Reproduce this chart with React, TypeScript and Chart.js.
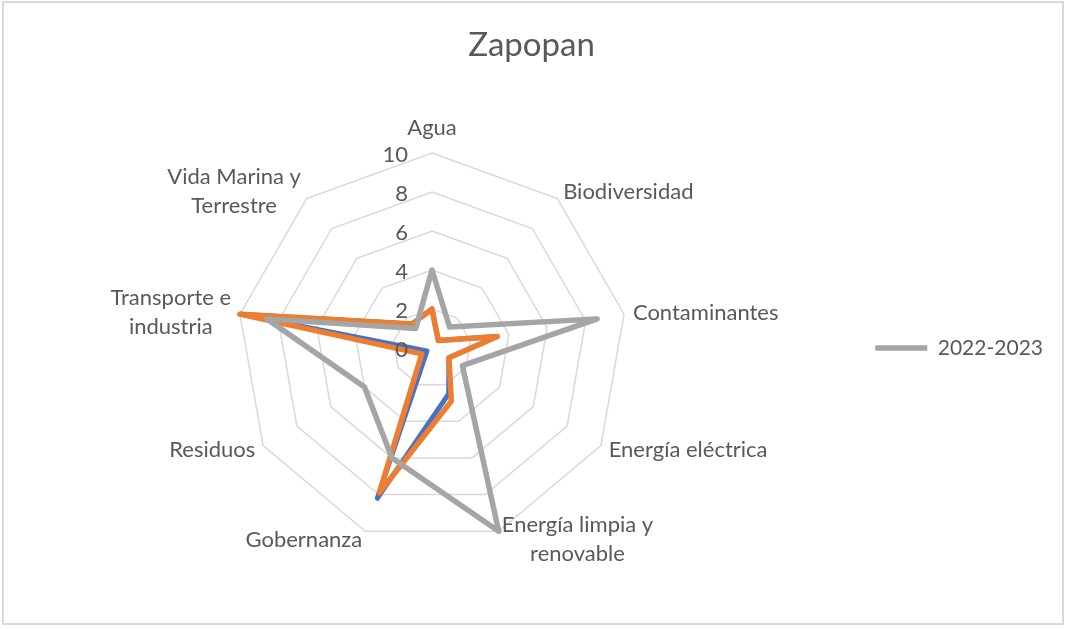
import { useEffect, useRef } from 'react';
import { Chart, registerables } from 'chart.js';

Chart.register(...registerables);

// ---- Data ----
const categories: (string | string[])[] = [
  'Agua',
  'Biodiversidad',
  'Contaminantes',
  'Energía eléctrica',
  ['Energía limpia y', 'renovable'],
  'Gobernanza',
  'Residuos',
  ['Transporte e', 'industria'],
  ['Vida Marina y', 'Terrestre'],
];

const serieAzul = [2, 0.5, 3.4, 1.0, 2.5, 8.2, 0.3, 10, 1.6];
const serieNaranja = [2, 0.5, 3.4, 1.0, 2.9, 7.9, 0.6, 10, 1.6];
const serie2022 = [4, 1.4, 8.6, 1.8, 10, 6, 4, 8.6, 1.3];

const legendLabel = '2022-2023';
const titleText = 'Zapopan';

const scaleMin = 0;
const scaleMax = 10;
const scaleStep = 2;

// ---- Styles ----
const FONT = 'Lato';
const TEXT = '#595959';
const GRID = '#d9d9d9';
const BLUE = '#4472C4';
const ORANGE = '#ED7D31';
const GRAY = '#A5A5A5';

const excelLabels = {
  id: 'excelLabels',
  afterDraw(chart: any) {
    const s = chart.scales.r;
    const ctx: CanvasRenderingContext2D = chart.ctx;
    ctx.save();
    ctx.fillStyle = TEXT;
    ctx.font = `22px ${FONT}`;
    ctx.textBaseline = 'middle';
    // tick labels, left of the vertical axis
    ctx.textAlign = 'right';
    s.ticks.forEach((t: any) => {
      const d = s.getDistanceFromCenterForValue(t.value);
      ctx.fillText(String(t.label ?? t.value), s.xCenter - 24, s.yCenter - d + 2);
    });
    // category labels
    const labels = chart.data.labels as (string | string[])[];
    const n = labels.length;
    const lh = 29;
    labels.forEach((lab, i) => {
      const lines = Array.isArray(lab) ? lab : [lab];
      const deg = Math.round((i * 360) / n) % 360;
      const p = s.getPointPosition(i, s.drawingArea + 9);
      const w = Math.max(...lines.map((l) => ctx.measureText(l).width));
      const h = lines.length * lh;
      let cx: number;
      let cy: number;
      if (deg === 0) {
        cx = p.x;
        cy = p.y - h / 2 - 2;
      } else if (deg === 180) {
        cx = p.x;
        cy = p.y + h / 2;
      } else if (deg < 180) {
        cx = p.x + w / 2;
        cy = p.y;
      } else {
        cx = p.x - w / 2;
        cy = p.y;
      }
      ctx.textAlign = 'center';
      lines.forEach((l, k) => ctx.fillText(l, cx, cy - h / 2 + lh * (k + 0.5)));
    });
    ctx.restore();
  },
};

export default function App() {
  const ref = useRef<HTMLCanvasElement>(null);

  useEffect(() => {
    if (!ref.current) return;
    Chart.defaults.font.family = FONT;
    const chart = new Chart(ref.current, {
      type: 'radar',
      data: {
        labels: categories,
        datasets: [
          {
            label: '',
            data: serieAzul,
            borderColor: BLUE,
            backgroundColor: BLUE,
            borderWidth: 5,
            fill: false,
            order: 3,
            borderJoinStyle: 'round',
            borderCapStyle: 'round',
          },
          {
            label: '',
            data: serieNaranja,
            borderColor: ORANGE,
            backgroundColor: ORANGE,
            borderWidth: 5.5,
            fill: false,
            order: 2,
            borderJoinStyle: 'round',
            borderCapStyle: 'round',
          },
          {
            label: legendLabel,
            data: serie2022,
            borderColor: GRAY,
            backgroundColor: GRAY,
            borderWidth: 5.5,
            fill: false,
            order: 1,
            borderJoinStyle: 'round',
            borderCapStyle: 'round',
          },
        ],
      },
      options: {
        responsive: false,
        animation: false,
        layout: { padding: { left: 10, right: 13, top: 0, bottom: 86 } },
        elements: { point: { radius: 0, hoverRadius: 0 }, line: { tension: 0 } },
        plugins: {
          title: {
            display: true,
            text: titleText,
            color: TEXT,
            font: { family: FONT, size: 33, weight: 'normal' },
            padding: { top: 26, bottom: 87.4 },
          },
          legend: {
            position: 'right',
            fullSize: false,
            labels: {
              usePointStyle: true,
              pointStyle: 'line',
              pointStyleWidth: 52,
              color: TEXT,
              font: { family: FONT, size: 21 },
              padding: 20,
              filter: (item: any) => item.text !== '',
            },
          },
          tooltip: { enabled: false },
        },
        scales: {
          r: {
            min: scaleMin,
            max: scaleMax,
            ticks: { stepSize: scaleStep, display: false },
            pointLabels: { display: false },
            angleLines: { display: false },
            grid: { color: GRID, lineWidth: 1.5 },
          },
        },
      } as any,
      plugins: [excelLabels],
    });
    return () => chart.destroy();
  }, []);

  return (
    <div style={{ position: 'absolute', left: 0, top: 0, width: 1066, height: 629, background: '#fff' }}>
      <div
        style={{
          position: 'absolute',
          left: 2,
          top: 1,
          width: 1062,
          height: 624,
          border: '2px solid #d9d9d9',
          boxSizing: 'border-box',
        }}
      />
      <canvas ref={ref} width={1066} height={629} style={{ position: 'absolute', left: 0, top: 0 }} />
    </div>
  );
}
